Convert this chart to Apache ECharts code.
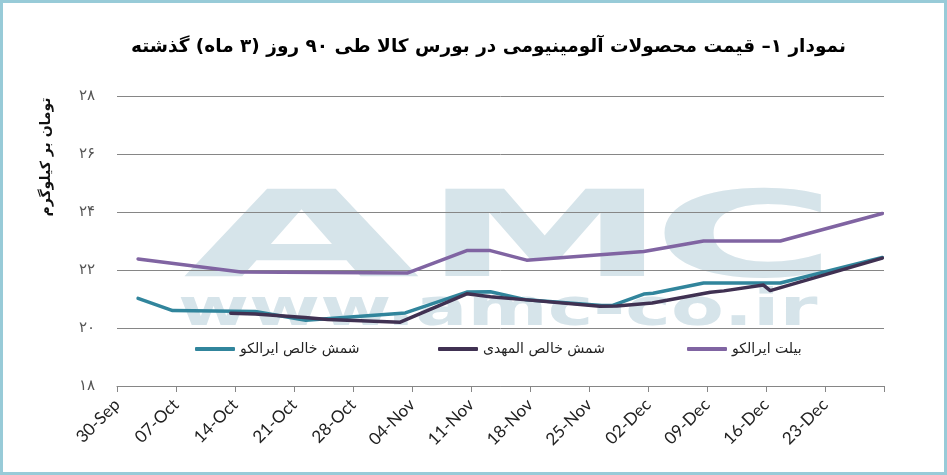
<!DOCTYPE html>
<html>
<head>
<meta charset="utf-8">
<script src="https://cdn.jsdelivr.net/npm/echarts@6/dist/echarts.min.js"></script>
<style>
html,body{margin:0;padding:0;background:#fff;}
#chart{position:absolute;left:0;top:0;width:947px;height:475px;}
#frame{position:absolute;left:0;top:0;width:947px;height:475px;box-sizing:border-box;border:3px solid #98cbd8;pointer-events:none;}
</style>
</head>
<body>
<div id="chart"></div>
<div id="frame"></div>
<script>
// ---- data (x = days since 30-Sep, y = thousand toman per kg) ----
const xTickLabels = ['30-Sep','07-Oct','14-Oct','21-Oct','28-Oct','04-Nov','11-Nov','18-Nov','25-Nov','02-Dec','09-Dec','16-Dec','23-Dec',''];
const yTickLabels = {18:'۱۸',20:'۲۰',22:'۲۲',24:'۲۴',26:'۲۶',28:'۲۸'};
const seriesNames = ['شمش خالص ایرالکو','شمش خالص المهدی','بیلت ایرالکو'];
const titleText = 'نمودار ۱– قیمت محصولات آلومینیومی در بورس کالا طی ۹۰ روز (۳ ماه) گذشته';
const yAxisTitle = 'تومان بر کیلوگرم';

const iralcoIngot = [[2.5,21.02],[6.6,20.60],[16.4,20.57],[22.4,20.27],[34.2,20.52],[41.5,21.24],[44.3,21.25],[48.6,20.97],[57.5,20.78],[58.8,20.78],[62.5,21.17],[63.6,21.20],[69.6,21.55],[78.7,21.55],[90.8,22.43]];
const almahdiIngot = [[13.5,20.51],[16.4,20.48],[22.3,20.36],[25.0,20.29],[33.6,20.20],[41.5,21.18],[44.3,21.08],[48.6,20.97],[57.3,20.75],[59.3,20.76],[63.5,20.86],[70.4,21.23],[72.0,21.28],[76.7,21.48],[77.5,21.29],[90.8,22.41]];
const iralcoBillet = [[2.5,22.38],[14.7,21.93],[34.5,21.90],[41.5,22.67],[44.3,22.67],[48.6,22.34],[62.5,22.64],[69.6,23.00],[78.7,23.00],[90.8,23.95]];

const colors = ['#31859c','#403152','#8064a2'];
const seriesData = [iralcoIngot, almahdiIngot, iralcoBillet];

const chart = echarts.init(document.getElementById('chart'), null, {renderer:'canvas'});
const wm = '#d6e4ea';
const wmFont = 'DejaVu Sans';

const option = {
  animation:false,
  backgroundColor:'#ffffff',
  title:{
    text:titleText,
    left:126, top:33,
    textStyle:{fontFamily:'DejaVu Sans', fontWeight:'bold', fontSize:18.5, color:'#000'}
  },
  graphic:[
    {type:'text', z:-10, silent:true, x:183, y:305, scaleX:2.55, scaleY:1, style:{text:'A', fontFamily:wmFont, fontWeight:'bold', fontSize:120, fill:wm, textAlign:'left', textVerticalAlign:'bottom'}},
    {type:'text', z:-10, silent:true, x:423, y:305, scaleX:2.04, scaleY:1, style:{text:'M', fontFamily:wmFont, fontWeight:'bold', fontSize:120, fill:wm, textAlign:'left', textVerticalAlign:'bottom'}},
    {type:'text', z:-10, silent:true, x:652, y:305, scaleX:2.1, scaleY:1, style:{text:'C', fontFamily:wmFont, fontWeight:'bold', fontSize:120, fill:wm, textAlign:'left', textVerticalAlign:'bottom'}},
    {type:'text', z:-10, silent:true, x:178, y:337, scaleX:1.48, scaleY:1, style:{text:'www.amc-co.ir', fontFamily:wmFont, fontWeight:'bold', fontSize:52, fill:wm, textAlign:'left', textVerticalAlign:'bottom'}},
    {type:'text', silent:true, x:46, y:157, rotation:Math.PI/2, style:{text:yAxisTitle, fontFamily:'DejaVu Sans', fontWeight:'bold', fontSize:14, fill:'#111', textAlign:'center', textVerticalAlign:'middle'}}
  ],
  legend:[0,1,2].map((i)=>({
    data:[seriesNames[i]],
    left:[190,433,682][i], top:337,
    icon:'roundRect', itemWidth:40, itemHeight:4, itemGap:10,
    textStyle:{fontFamily:'DejaVu Sans', fontSize:14, color:'#222'},
    selectedMode:false
  })),
  grid:{left:117, right:63, top:96, bottom:89, containLabel:false},
  xAxis:{
    type:'value', min:0, max:91, interval:7,
    axisLine:{show:true, lineStyle:{color:'#868686', width:1}},
    axisTick:{show:true, length:6, lineStyle:{color:'#868686'}},
    splitLine:{show:false},
    axisLabel:{
      rotate:45, margin:16, fontFamily:'Lato', fontSize:17, color:'#222',
      formatter:(v)=>xTickLabels[Math.round(v/7)] || ''
    }
  },
  yAxis:{
    type:'value', min:18, max:28, interval:2,
    axisLine:{show:false}, axisTick:{show:false},
    splitLine:{show:true, lineStyle:{color:'#868686', width:1}},
    axisLabel:{margin:22, fontFamily:'DejaVu Sans', fontSize:15, color:'#555',
      formatter:(v)=>yTickLabels[v] || ''}
  },
  series:seriesData.map((d,i)=>({
    name:seriesNames[i], type:'line', data:d, symbol:'none', smooth:false,
    lineStyle:{color:colors[i], width:3.5, cap:'round', join:'round'},
    itemStyle:{color:colors[i]}, z:2+i
  }))
};
chart.setOption(option);
</script>
</body>
</html>
